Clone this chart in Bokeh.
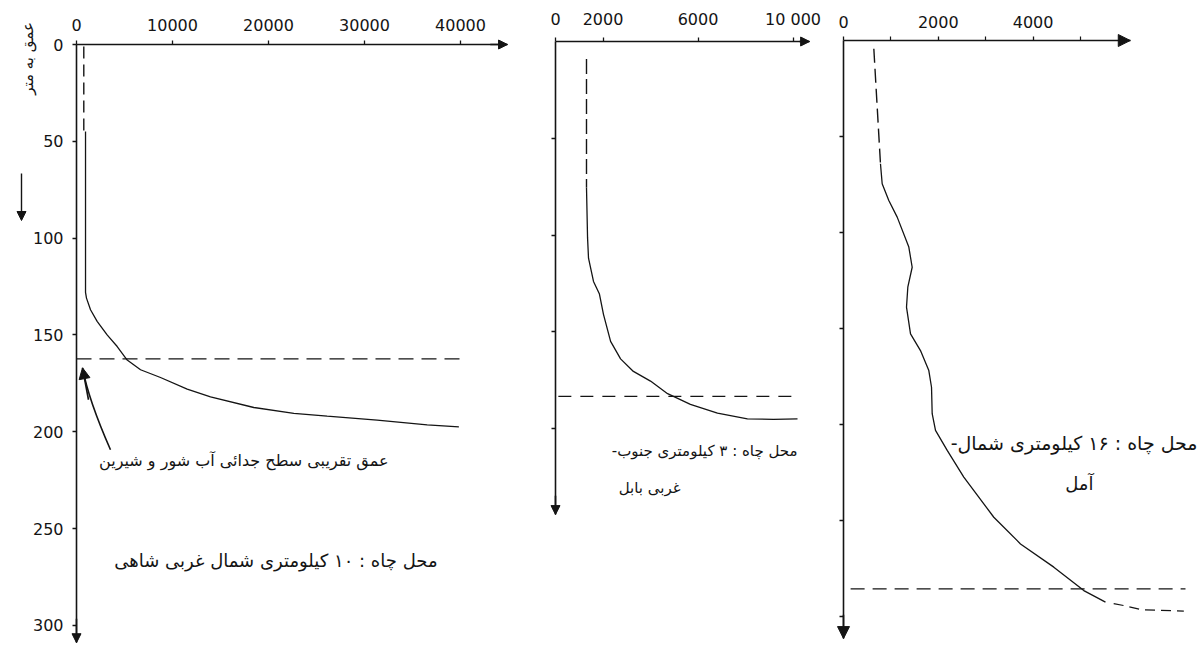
import math
from bokeh.plotting import figure
from bokeh.models import Range1d, FixedTicker, Arrow, NormalHead, Label
from bokeh.layouts import row
from bokeh.embed import file_html
from bokeh.resources import INLINE

# ---------------- data ----------------
# Panel 1 : well 10 km north-west of Shahi  (x = salinity, y = depth in metres)
p1_dashed_salinity = [760, 760]
p1_dashed_depth = [1, 45]
p1_salinity = [940, 940, 1040, 1460, 2150, 3190, 4240, 5280, 6670, 8750,
               11530, 13960, 18470, 22640, 26110, 31320, 36530, 39830]
p1_depth = [45, 128, 131, 137, 143, 150, 156, 163, 168, 172,
            178, 182, 187.5, 190.5, 192, 194, 196.5, 197.5]
p1_interface_depth = 162.4
p1_interface_extent = [0, 40300]

# Panel 2 : well 3 km south-west of Babol
p2_dashed_salinity = [1305, 1305]
p2_dashed_depth = [9, 75.5]
p2_salinity = [1305, 1350, 1390, 1600, 1850, 2020, 2320, 2740, 3280, 4000,
               4720, 5680, 6820, 8080, 9180, 10190]
p2_depth = [75.5, 101.5, 112, 124, 130.5, 141, 155, 164, 170.5, 175.5,
            182, 187.5, 192, 195, 195.3, 195]
p2_interface_depth = 183.4
p2_interface_extent = [120, 10300]

# Panel 3 : well 16 km north of Amol
p3_dashed_salinity = [640, 780]
p3_dashed_depth = [4.3, 64.2]
p3_salinity = [780, 816, 956, 1133, 1378, 1449, 1357, 1329, 1414, 1624, 1800,
               1857, 1871, 1941, 2188, 2538, 3171, 3734, 4437, 5070, 5527]
p3_depth = [64.2, 74.6, 83.3, 92, 107.6, 118.1, 128.5, 138.9, 152.8, 161.5, 171.9,
            180.6, 194.4, 203.1, 213.5, 227.4, 248.3, 262.2, 274.3, 286.5, 292.5]
p3_tail_salinity = [5700, 5913, 6300, 7180]
p3_tail_depth = [293.3, 294.3, 296.5, 297.2]
p3_interface_depth = 285.6
p3_interface_extent = [150, 7215]

# ticks
p1_xticks = [0, 10000, 20000, 30000, 40000]
p1_yticks = [0, 50, 100, 150, 200, 250, 300]
p2_xticks = [0, 2000, 6000, 10000]
p2_xtick_labels = ["0", "2000", "6000", "10 000"]
p2_yticks = [50, 100, 150, 200]
p3_xticks = [0, 2000, 4000]
p3_xminor = [1000, 3000, 5000]
p3_yticks = [50, 100, 150, 200, 250, 300]

# axis extents (arrow tips)
p1_axis_end = (44900, 309)
p2_axis_end = (10700, 244.5)
p3_axis_end = (6050, 311.5)

# texts (the trailing RLM keeps the continuation hyphen at the line end)
y_title = "عمق به متر"
p1_note = "عمق تقریبی سطح جدائی آب شور و شیرین"
p1_site = "محل چاه : ۱۰ کیلومتری شمال غربی شاهی"
p2_site = ["محل چاه : ۳ کیلومتری جنوب-\u200f", "غربی بابل"]
p3_site = ["محل چاه : ۱۶ کیلومتری شمال-\u200f", "آمل"]

# note arrow (panel 1), quadratic curve: start, control, end
note_arrow_start = (3540, 209.3)
note_arrow_ctrl = (1250, 183.5)
note_arrow_end = (625, 167)

INK = "#141414"
FONT = "DejaVu Sans"


def make_panel(width, height, sx, sy, x0px, y0px, xticks, yticks,
               xminor=None, xlabels=None, show_ylabels=True, standoff=10):
    """sx, sy: pixels per data unit; (x0px, y0px): pixel position of the origin."""
    p = figure(width=width, height=height,
               x_range=Range1d(-x0px / sx, (width - x0px) / sx),
               y_range=Range1d((height - y0px) / sy, -y0px / sy),
               x_axis_location="above", y_axis_location="left",
               output_backend="svg", toolbar_location=None,
               min_border=0)
    p.outline_line_color = None
    p.grid.visible = False
    p.background_fill_color = "white"
    p.border_fill_color = "white"
    p.xaxis.fixed_location = 0
    p.yaxis.fixed_location = 0
    p.xaxis.ticker = FixedTicker(ticks=xticks, minor_ticks=xminor or [])
    p.yaxis.ticker = FixedTicker(ticks=yticks)
    for ax in (p.xaxis, p.yaxis):
        ax.axis_line_color = INK
        ax.axis_line_width = 1.6
        ax.major_tick_line_color = INK
        ax.major_tick_line_width = 1.3
        ax.major_tick_out = 4
        ax.major_tick_in = 0
        ax.minor_tick_line_color = INK
        ax.minor_tick_line_width = 1.2
        ax.minor_tick_out = 4
        ax.minor_tick_in = 0
        ax.major_label_text_font = FONT
        ax.major_label_text_font_size = "16px"
        ax.major_label_text_color = INK
    p.xaxis.major_label_standoff = standoff
    p.yaxis.major_label_standoff = 9
    if xlabels is not None:
        p.xaxis.major_label_overrides = {t: s for t, s in zip(xticks, xlabels)}
    if not show_ylabels:
        p.yaxis.major_label_overrides = {t: "" for t in yticks}
    return p


def axis_arrows(p, ends, size):
    xe, ye = ends
    p.xaxis.bounds = (0, xe)
    p.yaxis.bounds = (0, ye)
    p.add_layout(Arrow(end=NormalHead(size=size, fill_color=INK, line_color=INK, line_width=1),
                       x_start=xe * 0.96, y_start=0, x_end=xe, y_end=0,
                       line_color=INK, line_width=1.6))
    p.add_layout(Arrow(end=NormalHead(size=size, fill_color=INK, line_color=INK, line_width=1),
                       x_start=0, y_start=ye * 0.96, x_end=0, y_end=ye,
                       line_color=INK, line_width=1.6))


def text(p, x, y, s, size="16px", align="right", angle=0.0):
    p.add_layout(Label(x=x, y=y, text=s, text_font=FONT, text_font_size=size,
                       text_color=INK, text_align=align, text_baseline="middle",
                       angle=angle))


# ---------------- panel 1 ----------------
S1X, S1Y = 0.0096, 1.936          # px per unit
O1X, O1Y = 76, 44                 # origin in px
p1 = make_panel(520, 653, S1X, S1Y, O1X, O1Y, p1_xticks, p1_yticks, standoff=10)
p1.line(p1_dashed_salinity, p1_dashed_depth, line_color=INK, line_width=1.4, line_dash="12 6")
p1.line(p1_salinity, p1_depth, line_color=INK, line_width=1.3)
p1.line(p1_interface_extent, [p1_interface_depth] * 2, line_color=INK, line_width=1.4,
        line_dash="15 8")
p1.quadratic(x0=[note_arrow_start[0]], y0=[note_arrow_start[1]],
             x1=[note_arrow_end[0]], y1=[note_arrow_end[1]],
             cx=[note_arrow_ctrl[0]], cy=[note_arrow_ctrl[1]],
             line_color=INK, line_width=1.6)
p1.add_layout(Arrow(end=NormalHead(size=11, fill_color=INK, line_color=INK, line_width=1),
                    x_start=note_arrow_ctrl[0], y_start=note_arrow_ctrl[1],
                    x_end=note_arrow_end[0], y_end=note_arrow_end[1],
                    line_color=INK, line_width=1.6))
axis_arrows(p1, p1_axis_end, 9)
text(p1, (388 - O1X) / S1X, (460 - O1Y) / S1Y, p1_note, "16px")
text(p1, (437 - O1X) / S1X, (560 - O1Y) / S1Y, p1_site, "18px")
# vertical axis title and its down arrow, left of the depth labels
text(p1, (27 - O1X) / S1X, (58 - O1Y) / S1Y, y_title, "15px", align="center", angle=math.pi / 2)
p1.add_layout(Arrow(end=NormalHead(size=9, fill_color=INK, line_color=INK, line_width=1),
                    x_start=(21 - O1X) / S1X, y_start=(173 - O1Y) / S1Y,
                    x_end=(21 - O1X) / S1X, y_end=(220 - O1Y) / S1Y,
                    line_color=INK, line_width=1.4))

# ---------------- panel 2 ----------------
S2X, S2Y = 0.02375, 1.935
O2X, O2Y = 555 - 520, 41
p2 = make_panel(302, 653, S2X, S2Y, O2X, O2Y, p2_xticks, p2_yticks,
                xlabels=p2_xtick_labels, show_ylabels=False, standoff=9)
p2.line(p2_dashed_salinity, p2_dashed_depth, line_color=INK, line_width=1.4, line_dash="15 5")
p2.line(p2_salinity, p2_depth, line_color=INK, line_width=1.3)
p2.line(p2_interface_extent, [p2_interface_depth] * 2, line_color=INK, line_width=1.4,
        line_dash="13 9")
axis_arrows(p2, p2_axis_end, 9)
text(p2, (797 - 555) / S2X, (450 - O2Y) / S2Y, p2_site[0], "15px")
text(p2, (680 - 555) / S2X, (487 - O2Y) / S2Y, p2_site[1], "15px")

# ---------------- panel 3 ----------------
S3X, S3Y = 0.0474, 1.92
O3X, O3Y = 843 - 822, 40
p3 = make_panel(378, 653, S3X, S3Y, O3X, O3Y, p3_xticks, p3_yticks,
                xminor=p3_xminor, show_ylabels=False, standoff=9)
p3.line(p3_dashed_salinity, p3_dashed_depth, line_color=INK, line_width=1.4, line_dash="14 6")
p3.line(p3_salinity, p3_depth, line_color=INK, line_width=1.3)
p3.line(p3_tail_salinity, p3_tail_depth, line_color=INK, line_width=1.2, line_dash="10 6")
p3.line(p3_interface_extent, [p3_interface_depth] * 2, line_color=INK, line_width=1.4,
        line_dash="14 8")
axis_arrows(p3, p3_axis_end, 12)
text(p3, (1197 - 843) / S3X, (442 - O3Y) / S3Y, p3_site[0], "19px")
text(p3, (1093 - 843) / S3X, (483 - O3Y) / S3Y, p3_site[1], "18px")

layout = row(p1, p2, p3)
open("out.html", "w").write(file_html(layout, INLINE))
